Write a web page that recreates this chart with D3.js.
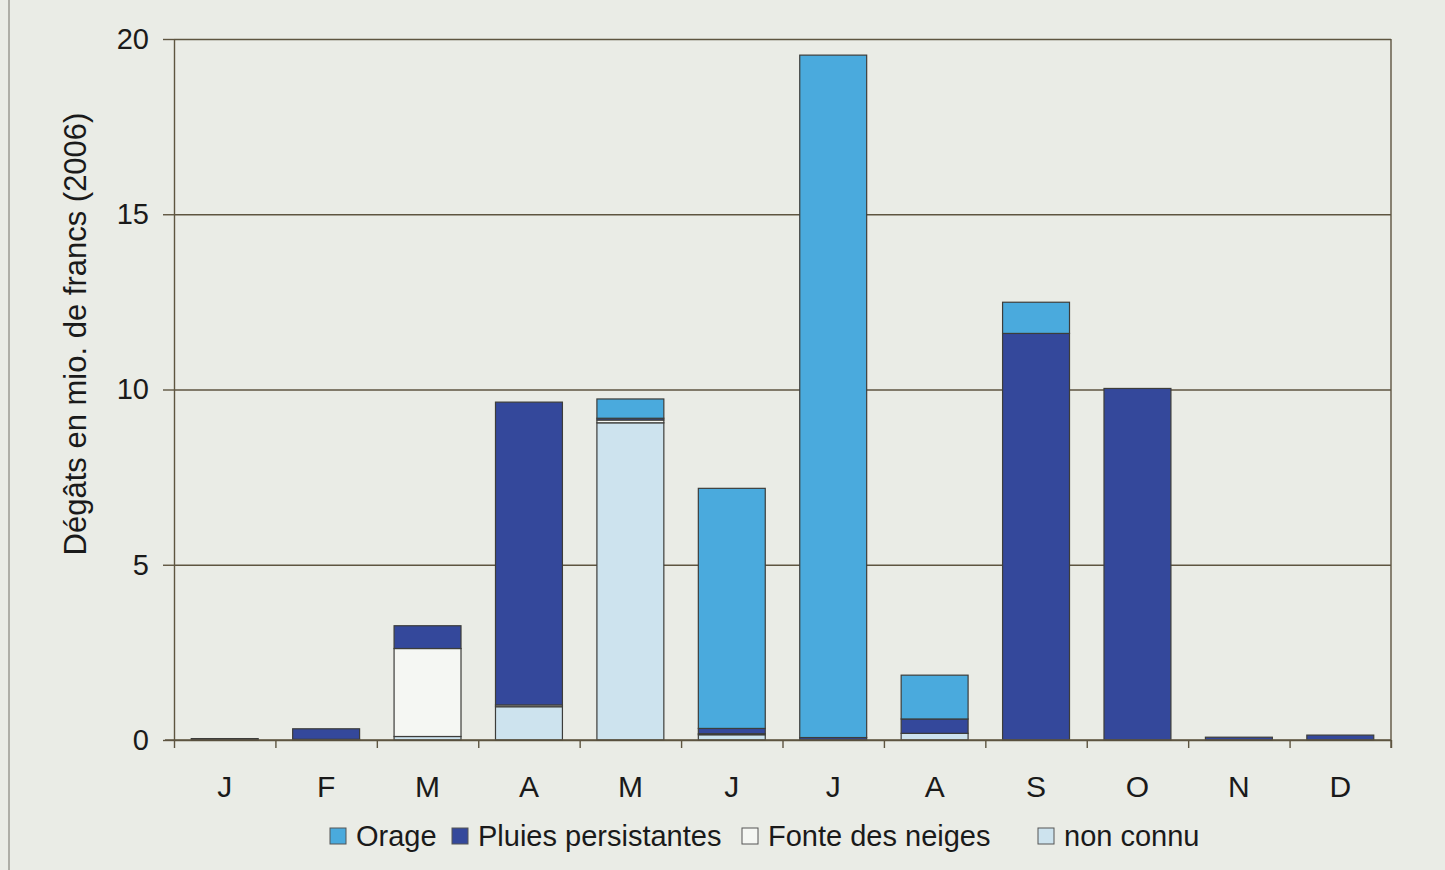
<!DOCTYPE html>
<html>
<head>
<meta charset="utf-8">
<script src="https://cdn.jsdelivr.net/npm/d3@7"></script>
<style>
  body { margin: 0; background: #eaece6; }
  text { font-family: "Liberation Sans", Arial, sans-serif; fill: #1a1a1a; }
</style>
</head>
<body>
<svg id="chart" width="1445" height="870"></svg>
<script>
// month labels (Jan..Dec)
var months = ['J','F','M','A','M','J','J','A','S','O','N','D'];

// damage in mio. CHF (2006)
var orage    = [0, 0, 0, 0, 0.55, 6.85, 19.47, 1.25, 0.89, 0, 0, 0];
var pluies   = [0.04, 0.3, 0.65, 8.64, 0.05, 0.15, 0.07, 0.41, 11.6, 10.03, 0.08, 0.14];
var fonte    = [0, 0.02, 2.51, 0.05, 0.08, 0.03, 0, 0, 0, 0, 0, 0];
var nonConnu = [0, 0, 0.1, 0.95, 9.05, 0.15, 0, 0.19, 0, 0, 0, 0];

var yTicks = [0, 5, 10, 15, 20];

var series = [
  {key: 'nonConnu', label: 'non connu', values: nonConnu, color: '#cde3ee'},
  {key: 'fonte', label: 'Fonte des neiges', values: fonte, color: '#f5f7f3'},
  {key: 'pluies', label: 'Pluies persistantes', values: pluies, color: '#34489b'},
  {key: 'orage', label: 'Orage', values: orage, color: '#4aaadd'}
];
var legendOrder = ['orage', 'pluies', 'fonte', 'nonConnu'];

var plotLeft = 174, plotRight = 1391, plotTop = 39, plotBottom = 740;
var lineColor = '#5e5540';

var svg = d3.select('#chart');

// scan frame edge
svg.append('line')
  .attr('x1', 9).attr('x2', 9).attr('y1', 0).attr('y2', 870)
  .attr('stroke', '#9a9a92').attr('stroke-width', 1.5);

var idx = d3.range(months.length);
var x = d3.scaleBand().domain(idx).range([plotLeft, plotRight]).paddingInner(0.34).paddingOuter(0.17);
var y = d3.scaleLinear().domain([0, 20]).range([plotBottom, plotTop]);
var edges = d3.scaleLinear().domain([0, months.length]).range([plotLeft, plotRight]);

// gridlines
svg.append('g')
  .attr('transform', 'translate(' + plotLeft + ',0)')
  .call(d3.axisLeft(y).tickValues(yTicks).tickSize(-(plotRight - plotLeft)).tickSizeOuter(0).tickFormat(''))
  .call(g => g.select('.domain').remove())
  .selectAll('line').attr('stroke', lineColor).attr('stroke-width', 1.4);

// right border
svg.append('line')
  .attr('x1', plotRight).attr('x2', plotRight).attr('y1', plotTop).attr('y2', plotBottom + 8)
  .attr('stroke', lineColor).attr('stroke-width', 1.4);

// stacked bars
var table = idx.map(function(i) {
  var row = {i: i};
  series.forEach(function(s) { row[s.key] = s.values[i]; });
  return row;
});
var stack = d3.stack().keys(series.map(s => s.key))(table);

svg.append('g').selectAll('g').data(stack).enter().append('g')
  .attr('fill', (d, k) => series[k].color)
  .selectAll('rect').data(d => d.filter(v => v[1] - v[0] > 0)).enter().append('rect')
    .attr('x', d => x(d.data.i))
    .attr('width', x.bandwidth())
    .attr('y', d => y(d[1]))
    .attr('height', d => y(d[0]) - y(d[1]))
    .attr('stroke', '#3d3d3a')
    .attr('stroke-width', 1.2);

// y axis
var yAxis = svg.append('g')
  .attr('transform', 'translate(' + plotLeft + ',0)')
  .call(d3.axisLeft(y).tickValues(yTicks).tickSize(11).tickSizeOuter(0).tickPadding(14));
yAxis.select('.domain').attr('stroke', lineColor).attr('stroke-width', 1.4);
yAxis.selectAll('line').attr('stroke', lineColor).attr('stroke-width', 1.4);
yAxis.selectAll('text').style('font-size', '29px').style('font-family', '"Liberation Sans", Arial, sans-serif').attr('fill', '#1a1a1a');

// x axis: boundary ticks
var xEdge = svg.append('g')
  .attr('transform', 'translate(0,' + plotBottom + ')')
  .call(d3.axisBottom(edges).tickValues(d3.range(months.length + 1)).tickSize(8).tickFormat('').tickSizeOuter(0));
xEdge.select('.domain').attr('d', 'M' + (plotLeft - 9) + ',0H' + plotRight).attr('stroke', lineColor).attr('stroke-width', 1.4);
xEdge.selectAll('line').attr('stroke', lineColor).attr('stroke-width', 1.4);

// x axis: month labels
var xLab = svg.append('g')
  .attr('transform', 'translate(0,' + plotBottom + ')')
  .call(d3.axisBottom(x).tickSize(0).tickPadding(36).tickFormat(i => months[i]));
xLab.select('.domain').remove();
xLab.selectAll('text').style('font-size', '30px').style('font-family', '"Liberation Sans", Arial, sans-serif').attr('fill', '#1a1a1a');

// y title
svg.append('text')
  .attr('transform', 'translate(86,334) rotate(-90)')
  .attr('text-anchor', 'middle')
  .style('font-size', '31px')
  .text('Dégâts en mio. de francs (2006)');

// legend
var legendX = [330, 452, 742, 1038];
var legend = svg.append('g');
legendOrder.forEach(function(k, j) {
  var s = series.find(d => d.key === k);
  var g = legend.append('g').attr('transform', 'translate(' + legendX[j] + ',828)');
  g.append('rect').attr('width', 16).attr('height', 16)
    .attr('fill', s.color).attr('stroke', '#555').attr('stroke-width', 1);
  g.append('text').attr('x', 26).attr('y', 18).style('font-size', '29px').text(s.label);
});
</script>
</body>
</html>
